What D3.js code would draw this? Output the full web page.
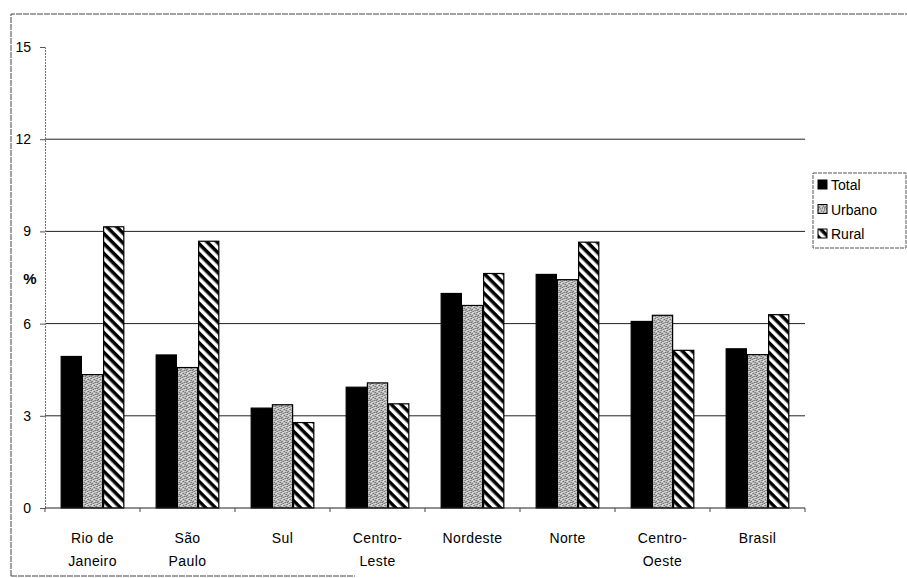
<!DOCTYPE html>
<html>
<head>
<meta charset="utf-8">
<script src="https://cdn.jsdelivr.net/npm/d3@7"></script>
<style>
  body { margin: 0; background: #fff; }
  svg { display: block; font-family: "Liberation Sans", Arial, sans-serif; }
</style>
</head>
<body>
<div id="chart"></div>
<script>
// Categories (two-line labels) and the three series, in %.
const categories = ["Rio de\nJaneiro", "São\nPaulo", "Sul", "Centro-\nLeste", "Nordeste", "Norte", "Centro-\nOeste", "Brasil"];
const seriesNames = ["Total", "Urbano", "Rural"];
const total  = [4.93, 4.98, 3.25, 3.93, 6.98, 7.60, 6.07, 5.18];
const urbano = [4.34, 4.57, 3.36, 4.07, 6.59, 7.43, 6.27, 4.99];
const rural  = [9.15, 8.68, 2.78, 3.39, 7.63, 8.65, 5.13, 6.29];
const yTicks = [0, 3, 6, 9, 12, 15];

const width = 907, height = 578;
const margin = {top: 47, right: 102, bottom: 70, left: 45};

const svg = d3.select("#chart").append("svg")
    .attr("width", width)
    .attr("height", height);

// Fill patterns: solid black, gray stipple, diagonal hatch.
const defs = svg.append("defs");
const dots = defs.append("pattern")
    .attr("id", "stipple")
    .attr("patternUnits", "userSpaceOnUse")
    .attr("width", 6).attr("height", 6);
dots.append("rect").attr("width", 6).attr("height", 6).attr("fill", "#bdbdbd");
// a fixed speckle layout inside the 6x6 tile
[[0, 0], [3, 1], [5, 2], [1, 3], [4, 4], [2, 5], [0, 4]].forEach(([x, y]) => {
    dots.append("rect").attr("x", x).attr("y", y).attr("width", 1).attr("height", 1).attr("fill", "#555");
});
[[2, 0], [5, 5], [3, 3], [1, 1]].forEach(([x, y]) => {
    dots.append("rect").attr("x", x).attr("y", y).attr("width", 1).attr("height", 1).attr("fill", "#eee");
});

const hatch = defs.append("pattern")
    .attr("id", "hatch")
    .attr("patternUnits", "userSpaceOnUse")
    .attr("width", 7).attr("height", 7)
    .attr("patternTransform", "rotate(45)");
hatch.append("rect").attr("width", 7).attr("height", 7).attr("fill", "#fff");
hatch.append("rect").attr("width", 7).attr("height", 3.5).attr("fill", "#000");

const fills = {"Total": "#000", "Urbano": "url(#stipple)", "Rural": "url(#hatch)"};

// Outer frame (only the visible edges of the scanned border).
svg.append("path")
    .attr("d", `M11,576V14H907`)
    .attr("fill", "none")
    .attr("stroke", "#444")
    .attr("stroke-width", 1)
    .attr("stroke-dasharray", "6,1");
svg.append("line")
    .attr("x1", 11).attr("x2", 355).attr("y1", 576).attr("y2", 576)
    .attr("stroke", "#444").attr("stroke-dasharray", "6,1");

// Scales.
const x0 = d3.scaleBand()
    .domain(d3.range(categories.length))
    .range([margin.left, width - margin.right])
    .paddingInner(0.33)
    .paddingOuter(0.165);
const x1 = d3.scaleBand()
    .domain(seriesNames)
    .range([0, x0.bandwidth()]);
const y = d3.scaleLinear()
    .domain([0, 15])
    .range([height - margin.bottom, margin.top]);

// Gridlines.
svg.append("g")
    .selectAll("line")
    .data(yTicks.filter(t => t > 0 && t < 15))
    .join("line")
    .attr("x1", margin.left).attr("x2", width - margin.right)
    .attr("y1", d => y(d)).attr("y2", d => y(d))
    .attr("stroke", "#222").attr("stroke-width", 1);

// Y axis.
const yAxis = svg.append("g")
    .attr("transform", `translate(${margin.left},0)`)
    .call(d3.axisLeft(y).tickValues(yTicks).tickSize(5).tickPadding(9));
yAxis.select(".domain").attr("stroke", "#777").attr("stroke-dasharray", "2,1");
yAxis.selectAll(".tick line").attr("stroke", "#555");
yAxis.selectAll("text")
    .attr("font-size", 14)
    .attr("font-family", "\"Liberation Sans\", Arial, sans-serif")
    .attr("fill", "#000");

// "%" axis title.
svg.append("text")
    .attr("x", 30).attr("y", 284)
    .attr("text-anchor", "middle")
    .attr("font-size", 15)
    .attr("font-weight", "bold")
    .text("%");

// Bars.
const seriesData = [total, urbano, rural];
const groups = svg.append("g")
    .selectAll("g")
    .data(categories.map((c, i) => i))
    .join("g")
    .attr("transform", i => `translate(${x0(i)},0)`);
groups.selectAll("rect")
    .data(i => seriesNames.map((s, k) => ({series: s, value: seriesData[k][i]})))
    .join("rect")
    .attr("x", d => x1(d.series) + 0.5)
    .attr("y", d => y(d.value))
    .attr("width", x1.bandwidth() - 1)
    .attr("height", d => y(0) - y(d.value))
    .attr("fill", d => fills[d.series])
    .attr("stroke", "#000")
    .attr("stroke-width", 1.2);

// X axis (category boundary ticks).
const bounds = d3.range(categories.length + 1).map(i => margin.left + i * x0.step());
svg.append("line")
    .attr("x1", margin.left).attr("x2", width - margin.right)
    .attr("y1", y(0)).attr("y2", y(0))
    .attr("stroke", "#222").attr("stroke-width", 1);
svg.append("g")
    .selectAll("line")
    .data(bounds)
    .join("line")
    .attr("x1", d => d).attr("x2", d => d)
    .attr("y1", y(0)).attr("y2", y(0) + 4)
    .attr("stroke", "#444");

// Category labels.
const labels = svg.append("g")
    .selectAll("text")
    .data(categories)
    .join("text")
    .attr("x", (d, i) => x0(i) + x0.bandwidth() / 2)
    .attr("y", 543)
    .attr("text-anchor", "middle")
    .attr("font-size", 14)
    .attr("letter-spacing", 0.4)
    .attr("fill", "#000");
labels.selectAll("tspan")
    .data(d => d.split("\n"))
    .join("tspan")
    .attr("x", function() { return this.parentNode.getAttribute("x"); })
    .attr("dy", (d, i) => i === 0 ? 0 : 23)
    .text(d => d);

// Legend.
const legend = svg.append("g").attr("transform", "translate(813,173)");
legend.append("rect")
    .attr("width", 93).attr("height", 75)
    .attr("fill", "#fff")
    .attr("stroke", "#555")
    .attr("stroke-dasharray", "4,1");
const items = legend.selectAll("g")
    .data(seriesNames)
    .join("g")
    .attr("transform", (d, i) => `translate(5,${12 + i * 24.5})`);
items.append("rect")
    .attr("x", 0).attr("y", -5)
    .attr("width", 9).attr("height", 9)
    .attr("fill", d => fills[d])
    .attr("stroke", "#000");
items.append("text")
    .attr("x", 13).attr("y", 5)
    .attr("font-size", 14)
    .text(d => d);
</script>
</body>
</html>
